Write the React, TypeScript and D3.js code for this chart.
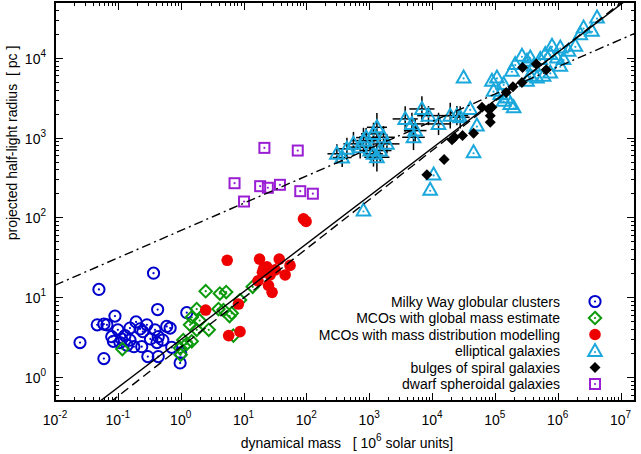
import React, { useEffect, useRef } from 'react';
import * as d3 from 'd3';

// mass in 10^6 solar units, radius in pc
const globularClusters = [
  [0.025, 2.7], [0.05, 12.5], [0.37, 20], [0.09, 5.8], [0.06, 4.6], [0.067, 4.5], [0.43, 7.0],
  [0.06, 1.7], [0.08, 3.2], [0.085, 2.8], [0.13, 3.3], [0.156, 4.1], [0.226, 4.0], [0.29, 4.5],
  [0.25, 3.7], [0.39, 3.9], [0.44, 3.2], [0.42, 2.7], [0.6, 4.3], [0.68, 4.1], [0.18, 2.4],
  [0.24, 2.4], [0.3, 1.8], [0.44, 1.8], [0.72, 2.35], [1.25, 6.4], [1.0, 2.0], [0.98, 1.5],
  [0.108, 2.7], [0.14, 2.5], [0.156, 2.9], [0.115, 3.0], [0.047, 4.5], [0.195, 4.9], [0.33, 3.0],
  [0.52, 2.9], [0.1, 3.9]
];

const mcoGlobal = [
  [0.118, 2.24], [2.5, 11.9], [4.2, 11.1], [5.3, 11.6], [1.8, 7.1], [1.5, 5.6], [1.41, 4.5],
  [2.0, 5.1], [1.8, 3.9], [2.8, 3.9], [4.0, 7.1], [4.8, 6.9], [6.0, 5.8], [6.5, 6.3], [1.1, 2.9],
  [1.25, 2.6], [0.98, 2.3], [1.0, 1.9], [6.9, 3.3], [14, 13.5], [1.5, 2.8], [8.8, 9.2]
];

const mcoModelled = [
  [2.5, 6.9], [5.5, 29], [5.8, 3.3], [8.8, 3.7], [8.3, 8.2], [18, 30], [37, 30], [23.5, 24],
  [17, 16], [20, 20.5], [26.5, 19], [21, 23], [32, 22], [25, 14], [28.5, 11.5], [46, 19],
  [55, 25], [90, 96], [99, 89]
];

// [mass, radius, mass error (dex), radius error (dex)]
const ellipticals = [
  [306, 626, 0.15, 0.12], [442, 722, 0.18, 0.14], [562, 834, 0.16, 0.15], [811, 917, 0.2, 0.16],
  [1037, 688, 0.15, 0.12], [1171, 1112, 0.2, 0.14], [1327, 1345, 0.16, 0.18], [1690, 1009, 0.18, 0.14],
  [1914, 834, 0.2, 0.12], [1171, 626, 0.15, 0.16], [1327, 567, 0.2, 0.18], [372, 562, 0.15, 0.12],
  [719, 757, 0.18, 0.14], [895, 1000, 0.16, 0.12], [1496, 688, 0.18, 0.14],
  [3742, 1713, 0.2, 0.16], [4786, 1483, 0.2, 0.14], [5400, 1223, 0.18, 0.14], [5075, 1009, 0.18, 0.16],
  [6902, 2284, 0.2, 0.16], [8790, 1884, 0.18, 0.12], [12700, 1483, 0.2, 0.14], [19500, 1884, 0.2, 0.16],
  [24900, 1884, 0.18, 0.12], [28100, 1794, 0.15, 0.14], [40500, 2284, 0, 0], [51800, 1413, 0, 0],
  [45800, 655, 0, 0],
  [31800, 5675, 0, 0], [10600, 345, 0, 0], [9350, 222, 0, 0], [811, 122, 0, 0],
  [89900, 5158, 0, 0], [108000, 5675, 0, 0], [138000, 4690, 0, 0], [95300, 3870, 0, 0],
  [122000, 3516, 0, 0], [138000, 2900, 0, 0], [176000, 2636, 0, 0], [199000, 2393, 0, 0],
  [156000, 3190, 0, 0], [187000, 6880, 0, 0], [211000, 8340, 0, 0], [270000, 10600, 0, 0],
  [325000, 9170, 0, 0], [366000, 10090, 0, 0], [414000, 7940, 0, 0], [528000, 9630, 0, 0],
  [366000, 5960, 0, 0], [468000, 5675, 0, 0], [596000, 5960, 0, 0], [635000, 11120, 0, 0],
  [811000, 14130, 0, 0], [1.1e6, 13460, 0, 0], [762000, 11120, 0, 0], [975000, 10090, 0, 0],
  [1.24e6, 9630, 0, 0], [1.1e6, 7940, 0, 0], [1.49e6, 12240, 0, 0], [1.91e6, 14130, 0, 0],
  [2.58e6, 23900, 0, 0], [3.51e6, 21760, 0, 0], [2.29e6, 19770, 0, 0], [4.23e6, 31900, 0, 0],
  [762000, 6550, 0, 0], [325000, 5158, 0, 0]
];

const bulges = [
  [8280, 342], [15600, 531], [20800, 936], [22800, 1009], [30600, 1059], [45800, 1132],
  [62400, 2393], [79500, 2284], [89900, 2393], [84500, 1884], [84500, 1553], [152000, 3681],
  [194000, 4340], [270000, 4910], [276000, 7570], [456000, 8340], [658000, 7080]
];

const dwarfSpheroidals = [
  [21.5, 743], [73, 688], [7.2, 268], [18.4, 246], [24.4, 235], [38, 256], [80, 213],
  [127, 198], [10.2, 158]
];

// fitted relations: log r = a + b log M
const fitSolid = { a: 0.467, b: 0.6 };
const fitDashed = { a: 0.373, b: 0.616 };
const fitDashDot = { a: 1.834, b: 0.342 };

const xDecades = [-2, -1, 0, 1, 2, 3, 4, 5, 6, 7];
const yDecades = [0, 1, 2, 3, 4];

const legendLabels = [
  "Milky Way globular clusters",
  "MCOs with global mass estimate",
  "MCOs with mass distribution modelling",
  "elliptical galaxies",
  "bulges of spiral galaxies",
  "dwarf spheroidal galaxies"
];

const blue = "#0000cc", green = "#0a9a0a", red = "#ee0000", cyan = "#1aa8dc", purple = "#9a1fd4";
const font = "'Liberation Sans', Arial, Helvetica, sans-serif";

function drawSymbol(g, kind, color, px, py) {
  if (kind === "circle") {
    g.append("circle").attr("cx", px).attr("cy", py).attr("r", 5.6)
      .attr("fill", "none").attr("stroke", color).attr("stroke-width", 2);
    g.append("circle").attr("cx", px).attr("cy", py).attr("r", 1.1).attr("fill", color);
  } else if (kind === "diamond") {
    const s = 6.2;
    g.append("path").attr("d", `M${px},${py - s}L${px + s},${py}L${px},${py + s}L${px - s},${py}Z`)
      .attr("fill", "none").attr("stroke", color).attr("stroke-width", 2);
    g.append("circle").attr("cx", px).attr("cy", py).attr("r", 1.1).attr("fill", color);
  } else if (kind === "dot") {
    g.append("circle").attr("cx", px).attr("cy", py).attr("r", 5.8).attr("fill", color);
  } else if (kind === "triangle") {
    g.append("path").attr("d", `M${px},${py - 7}L${px + 6.8},${py + 5}L${px - 6.8},${py + 5}Z`)
      .attr("fill", "none").attr("stroke", color).attr("stroke-width", 2);
    g.append("circle").attr("cx", px).attr("cy", py + 1).attr("r", 1.1).attr("fill", color);
  } else if (kind === "fdiamond") {
    const s = 5.5;
    g.append("path").attr("d", `M${px},${py - s}L${px + s},${py}L${px},${py + s}L${px - s},${py}Z`)
      .attr("fill", color);
  } else if (kind === "square") {
    g.append("rect").attr("x", px - 5).attr("y", py - 5).attr("width", 10).attr("height", 10)
      .attr("fill", "none").attr("stroke", color).attr("stroke-width", 2);
    g.append("circle").attr("cx", px).attr("cy", py).attr("r", 1.1).attr("fill", color);
  }
}

export default function App() {
  const ref = useRef(null);

  useEffect(() => {
    const width = 641, height = 454;
    const plot = { left: 55, right: 635, top: 2, bottom: 401 };

    const root = d3.select(ref.current);
    root.selectAll("*").remove();
    const svg = root.append("svg")
      .attr("width", width)
      .attr("height", height)
      .style("position", "absolute")
      .style("left", 0)
      .style("top", 0)
      .style("background", "white")
      .style("font-family", font);

    const x = d3.scaleLog().domain([0.01, 1.7e7]).range([plot.left, plot.right]);
    const y = d3.scaleLog().domain([0.5, 5e4]).range([plot.bottom, plot.top]);

    svg.append("defs").append("clipPath").attr("id", "plotclip")
      .append("rect").attr("x", plot.left).attr("y", plot.top)
      .attr("width", plot.right - plot.left).attr("height", plot.bottom - plot.top);

    // ticks, mirrored on all four sides
    const ticks = svg.append("g").attr("stroke", "black").attr("stroke-width", 1);
    xDecades.forEach(k => {
      d3.range(1, 10).forEach(m => {
        const v = m * Math.pow(10, k);
        if (v < x.domain()[0] || v > x.domain()[1]) return;
        const px = Math.round(x(v)) + 0.5;
        const len = m === 1 ? 8 : 4;
        ticks.append("line").attr("x1", px).attr("x2", px).attr("y1", plot.bottom).attr("y2", plot.bottom - len);
        ticks.append("line").attr("x1", px).attr("x2", px).attr("y1", plot.top).attr("y2", plot.top + len);
      });
    });
    d3.range(-1, 5).forEach(k => {
      d3.range(1, 10).forEach(m => {
        const v = m * Math.pow(10, k);
        if (v < y.domain()[0] || v > y.domain()[1]) return;
        const py = Math.round(y(v)) + 0.5;
        const len = m === 1 ? 8 : 4;
        ticks.append("line").attr("x1", plot.left).attr("x2", plot.left + len).attr("y1", py).attr("y2", py);
        ticks.append("line").attr("x1", plot.right).attr("x2", plot.right - len).attr("y1", py).attr("y2", py);
      });
    });

    // tick labels
    xDecades.forEach(k => {
      const t = svg.append("text")
        .attr("x", x(Math.pow(10, k)))
        .attr("y", 425)
        .attr("text-anchor", "middle")
        .style("font-size", "14px");
      t.append("tspan").text("10");
      t.append("tspan").attr("dy", -7).style("font-size", "10px").text(k);
    });
    yDecades.forEach(k => {
      const t = svg.append("text")
        .attr("x", 46)
        .attr("y", y(Math.pow(10, k)) + 6)
        .attr("text-anchor", "end")
        .style("font-size", "14px");
      t.append("tspan").text("10");
      t.append("tspan").attr("dy", -7).style("font-size", "10px").text(k);
    });

    // axis titles
    const xl = svg.append("text")
      .attr("x", 347).attr("y", 448)
      .attr("text-anchor", "middle")
      .style("font-size", "14px")
      .style("white-space", "pre");
    xl.append("tspan").text("dynamical mass   [ 10");
    xl.append("tspan").attr("dy", -7).style("font-size", "10px").text("6");
    xl.append("tspan").attr("dy", 7).text(" solar units]");

    svg.append("text")
      .attr("transform", "translate(17,143) rotate(-90)")
      .attr("text-anchor", "middle")
      .style("font-size", "14px")
      .style("white-space", "pre")
      .text("projected half-light radius  [ pc ]");

    const pts = svg.append("g").attr("clip-path", "url(#plotclip)");

    globularClusters.forEach(d => drawSymbol(pts, "circle", blue, x(d[0]), y(d[1])));
    mcoGlobal.forEach(d => drawSymbol(pts, "diamond", green, x(d[0]), y(d[1])));
    mcoModelled.forEach(d => drawSymbol(pts, "dot", red, x(d[0]), y(d[1])));

    // error bars of ellipticals
    const err = pts.append("g").attr("stroke", "black").attr("stroke-width", 1.5);
    ellipticals.filter(d => d[2] > 0).forEach(d => {
      const fx = Math.pow(10, d[2]), fy = Math.pow(10, d[3]);
      err.append("line").attr("x1", x(d[0] / fx)).attr("x2", x(d[0] * fx)).attr("y1", y(d[1])).attr("y2", y(d[1]));
      err.append("line").attr("x1", x(d[0])).attr("x2", x(d[0])).attr("y1", y(d[1] / fy)).attr("y2", y(d[1] * fy));
    });
    ellipticals.forEach(d => drawSymbol(pts, "triangle", cyan, x(d[0]), y(d[1])));
    bulges.forEach(d => drawSymbol(pts, "fdiamond", "black", x(d[0]), y(d[1])));
    dwarfSpheroidals.forEach(d => drawSymbol(pts, "square", purple, x(d[0]), y(d[1])));

    // fit lines
    const masses = x.domain();
    [[fitSolid, null], [fitDashed, "9,5"], [fitDashDot, "9,4,2,4"]].forEach(([f, dash]) => {
      const lineData = masses.map(m => [x(m), y(Math.pow(10, f.a + f.b * Math.log10(m)))]);
      const p = pts.append("path")
        .attr("d", d3.line()(lineData))
        .attr("fill", "none")
        .attr("stroke", "black")
        .attr("stroke-width", 1.4);
      if (dash) p.attr("stroke-dasharray", dash);
    });

    // legend
    const kinds = [["circle", blue], ["diamond", green], ["dot", red], ["triangle", cyan], ["fdiamond", "black"], ["square", purple]];
    legendLabels.forEach((label, i) => {
      const ly = 301.5 + i * 16.5;
      svg.append("text")
        .attr("x", 560).attr("y", ly + 5)
        .attr("text-anchor", "end")
        .style("font-size", "14px")
        .text(label);
      drawSymbol(svg, kinds[i][0], kinds[i][1], 595, ly);
    });

    // border
    svg.append("rect")
      .attr("x", plot.left).attr("y", plot.top)
      .attr("width", plot.right - plot.left).attr("height", plot.bottom - plot.top)
      .attr("fill", "none").attr("stroke", "black").attr("stroke-width", 2);
  }, []);

  return <div ref={ref}></div>;
}
